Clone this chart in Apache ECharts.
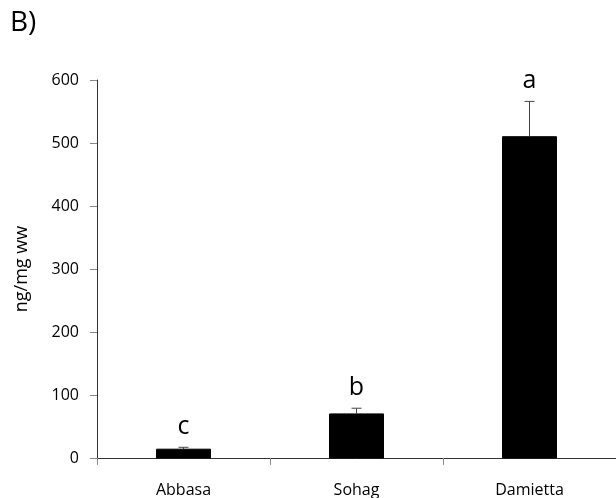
<!DOCTYPE html>
<html><head><meta charset="utf-8">
<script src="https://cdn.jsdelivr.net/npm/echarts@6/dist/echarts.min.js"></script>
<style>html,body{margin:0;padding:0;background:#fff}#c{width:616px;height:498px}</style>
</head><body><div id="c"></div>
<script>
const categories = ['Abbasa', 'Sohag', 'Damietta'];
const means = [14, 70, 510];
const errors = [3, 9, 56];
const letters = ['c', 'b', 'a'];
const yTicks = [0, 100, 200, 300, 400, 500, 600];

const chart = echarts.init(document.getElementById('c'));
const font = '"Open Sans", "Noto Sans", sans-serif';
chart.setOption({
  animation: false,
  graphic: [{type: 'text', left: 10, top: 9, style: {text: 'B)', font: '28px ' + font, fill: '#000'}}],
  grid: {left: 97, right: -3, top: 80, bottom: 39},
  xAxis: {
    type: 'category', data: categories,
    axisLine: {lineStyle: {color: '#333', width: 1}},
    axisTick: {show: true, length: 7, lineStyle: {color: '#888'}},
    axisLabel: {color: '#000', fontSize: 16, fontFamily: font, margin: 24}
  },
  yAxis: {
    type: 'value', min: yTicks[0], max: yTicks[yTicks.length - 1], interval: 100,
    name: 'ng/mg ww', nameLocation: 'middle', nameGap: 66,
    nameTextStyle: {color: '#000', fontSize: 18, fontFamily: font},
    splitLine: {show: false},
    axisLine: {show: true, lineStyle: {color: '#333', width: 1}},
    axisTick: {show: true, length: 7, lineStyle: {color: '#888'}},
    axisLabel: {color: '#000', fontSize: 16, fontFamily: font, margin: 18}
  },
  series: [
    {
      type: 'bar', data: means, barWidth: 54,
      itemStyle: {color: '#000', borderColor: '#000'}
    },
    {
      type: 'custom',
      data: categories.map((c, i) => [i, means[i], means[i] + errors[i], letters[i]]),
      renderItem: function (params, api) {
        const x = api.value(0);
        const lo = api.coord([x, api.value(1)]);
        const hi = api.coord([x, api.value(2)]);
        return {
          type: 'group',
          children: [
            {type: 'line', shape: {x1: lo[0], y1: lo[1], x2: hi[0], y2: hi[1]}, style: {stroke: '#444', lineWidth: 1}},
            {type: 'line', shape: {x1: hi[0] - 5, y1: hi[1], x2: hi[0] + 5, y2: hi[1]}, style: {stroke: '#444', lineWidth: 1}},
            {type: 'text', x: hi[0], y: hi[1] - 8, style: {text: api.value(3), font: '25px ' + font, fill: '#000', align: 'center', verticalAlign: 'bottom'}}
          ]
        };
      },
      z: 5
    }
  ]
});
</script></body></html>
